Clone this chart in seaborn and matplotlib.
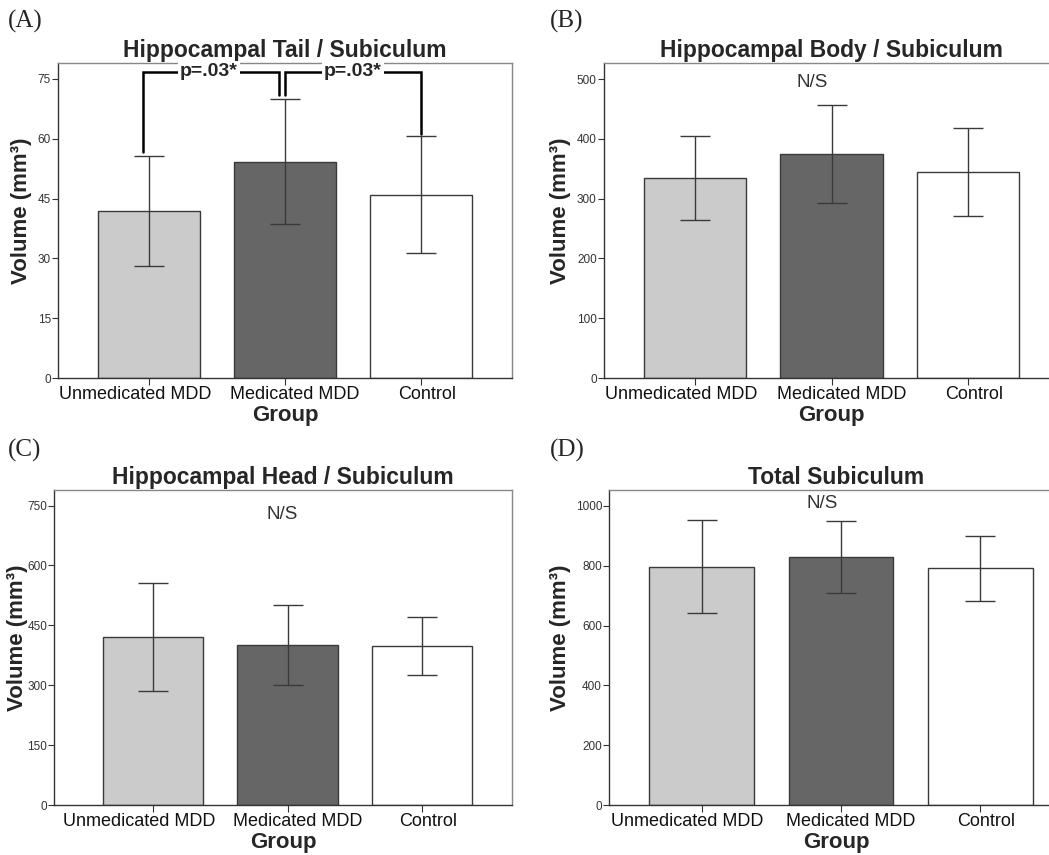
import matplotlib
matplotlib.use("Agg")
import matplotlib.pyplot as plt
import matplotlib.transforms as mtransforms
import seaborn as sns
import numpy as np
import pandas as pd

groups = ["Unmedicated MDD", "Medicated MDD", "Control"]
bar_colors = ["#cbcbcb", "#666666", "#ffffff"]

tail_mean = [41.9, 54.2, 46.0]
tail_err = [13.9, 15.7, 14.6]
body_mean = [335, 375, 345]
body_err = [70, 82, 74]
head_mean = [420, 401, 398]
head_err = [135, 100, 72]
total_mean = [797, 830, 791]
total_err = [156, 120, 108]

titles = ["Hippocampal Tail / Subiculum", "Hippocampal Body / Subiculum",
          "Hippocampal Head / Subiculum", "Total Subiculum"]
letters = ["(A)", "(B)", "(C)", "(D)"]
yticks_list = [[0, 15, 30, 45, 60, 75], [0, 100, 200, 300, 400, 500],
               [0, 150, 300, 450, 600, 750], [0, 200, 400, 600, 800, 1000]]
ymax_list = [79, 527, 789, 1053]
p_label = "p=.03*"
ns_label = "N/S"
y_label = "Volume (mm³)"

sns.set_theme(style="white")
plt.rcParams["font.family"] = ["Liberation Sans", "DejaVu Sans"]

W, H = 1049, 855
fig = plt.figure(figsize=(W / 100, H / 100), dpi=100)

# axes boxes in pixels: left, right, top, bottom
boxes = [(58, 512, 63, 378), (603.7, 1059.3, 63, 378),
         (54.3, 511.7, 490, 805), (609, 1064, 490, 805)]
xlims = [(-0.669, 2.669), (-0.669, 2.669), (-0.734, 2.667), (-0.665, 2.6)]
letter_pos = [(8, 21), (550, 21), (8, 450), (550, 450)]
ylabel_right = [32, 571, 28.5, 571]
label_shift_px = [-14, 10, 6]

means_all = [tail_mean, body_mean, head_mean, total_mean]
errs_all = [tail_err, body_err, head_err, total_err]
ns_pos = [None, (0.86, 495), (0.957, 728), (0.866, 1007)]

for i in range(4):
    l, r, t, b = boxes[i]
    ax = fig.add_axes([l / W, 1 - b / H, (r - l) / W, (b - t) / H])
    df = pd.DataFrame({"group": groups, "mean": means_all[i], "err": errs_all[i]})
    sns.barplot(data=df, x="group", y="mean", hue="group", palette=bar_colors,
                order=groups, hue_order=groups, legend=False, width=0.75,
                edgecolor="#3a3a3a", linewidth=1.0, errorbar=None, ax=ax, zorder=2)
    ax.errorbar(x=np.arange(len(groups)), y=df["mean"], yerr=df["err"], fmt="none",
                ecolor="#3a3a3a", elinewidth=1.0, capsize=10.5, capthick=1.0, zorder=3)
    ax.set_xlim(*xlims[i])
    ax.set_ylim(0, ymax_list[i])
    ax.set_yticks(yticks_list[i])
    ax.tick_params(axis="y", labelsize=8.5, labelcolor="#333333", length=4,
                   width=0.8, color="#333333", pad=1, left=True, direction="out")
    ax.tick_params(axis="x", labelsize=13, labelcolor="#111111", length=5,
                   width=0.8, color="#333333", pad=1, bottom=True, direction="out")
    for lab, dx in zip(ax.get_xticklabels(), label_shift_px):
        lab.set_transform(lab.get_transform() +
                          mtransforms.ScaledTranslation(dx / 100, 0, fig.dpi_scale_trans))
    ax.set_xlabel("Group", fontsize=16, fontweight="bold", labelpad=1)
    ax.set_ylabel(y_label, fontsize=16, fontweight="bold")
    ax.yaxis.set_label_coords((ylabel_right[i] - l) / (r - l), 0.53)
    ax.set_title(titles[i], fontsize=16.5, fontweight="bold", pad=4)
    for side in ["top", "right"]:
        ax.spines[side].set_color("#888888")
        ax.spines[side].set_linewidth(1.0)
    for side in ["left", "bottom"]:
        ax.spines[side].set_color("#333333")
        ax.spines[side].set_linewidth(1.0)
    ax.grid(False)
    fig.text(letter_pos[i][0] / W, 1 - letter_pos[i][1] / H, letters[i],
             fontsize=18, family=["Liberation Serif", "DejaVu Serif"], va="center", ha="left")
    if ns_pos[i] is not None:
        ax.text(ns_pos[i][0], ns_pos[i][1], ns_label, fontsize=13.5, color="#333333",
                ha="center", va="center")
    if i == 0:
        top = 76.8
        tops = [m + e for m, e in zip(tail_mean, tail_err)]
        pairs = [(-0.044, 0.956, tops[0] + 1.0, tops[1] + 1.0, 0.44),
                 (1.0, 2.0, tops[1] + 1.0, tops[2] + 0.7, 1.5)]
        for x0, x1, y0, y1, xt in pairs:
            ax.plot([x0, x0, x1, x1], [y0, top, top, y1], color="black", lw=1.8,
                    zorder=4, solid_joinstyle="miter")
            ax.text(xt, top, p_label, fontsize=14, fontweight="bold", ha="center",
                    va="center", zorder=5,
                    bbox=dict(facecolor="white", edgecolor="none", pad=1.5))

fig.savefig("out.png", dpi=100)
